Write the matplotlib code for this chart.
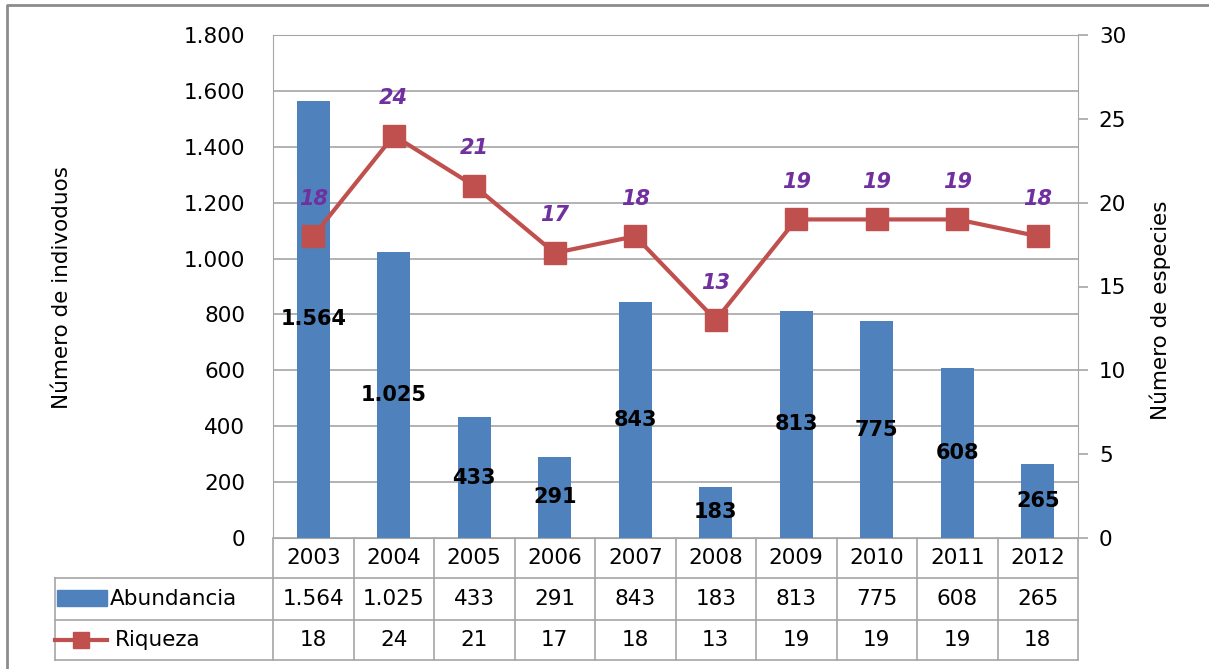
import numpy as np
import matplotlib.pyplot as plt
from matplotlib.lines import Line2D
from matplotlib.patches import Rectangle
from matplotlib.ticker import FuncFormatter
import matplotlib.transforms as mtransforms

years = ["2003", "2004", "2005", "2006", "2007", "2008", "2009", "2010", "2011", "2012"]
abundancia = [1564, 1025, 433, 291, 843, 183, 813, 775, 608, 265]
riqueza = [18, 24, 21, 17, 18, 13, 19, 19, 19, 18]

BLUE = "#4F81BD"
RED = "#C0504D"
PURPLE = "#7030A0"
GRID = "#A6A6A6"
W, H = 1209, 669

plt.rcParams["font.family"] = "DejaVu Sans"


def fx(px):
    return px / W


def fy(px):
    return 1 - px / H


def miles(v):
    return f"{int(v):,}".replace(",", ".")


fig = plt.figure(figsize=(W / 100, H / 100), dpi=100)
ax = fig.add_axes([fx(273), fy(538), fx(1078) - fx(273), fy(35) - fy(538)])
ax2 = ax.twinx()

x = np.arange(len(years))
ax.bar(x, abundancia, width=0.41, color=BLUE, zorder=2)
ax.set_ylim(0, 1800)
ax.set_xlim(-0.5, len(years) - 0.5)
ax.set_yticks(np.arange(0, 1801, 200))
ax.yaxis.set_major_formatter(FuncFormatter(lambda v, p: miles(v)))
ax.grid(axis="y", color=GRID, linewidth=1.2, zorder=0)
ax.set_axisbelow(True)
ax.set_xticks([])
ax.tick_params(axis="y", length=0, pad=20, labelsize=15.5, colors="#000000")
for s in ax.spines.values():
    s.set_color(GRID)
ax.spines["right"].set_visible(False)

for xi, v in zip(x, abundancia):
    ax.text(xi, v / 2, miles(v), ha="center", va="center",
            fontsize=15, fontweight="bold", color="black", zorder=4)

ax2.plot(x, riqueza, color=RED, linewidth=3, marker="s", markersize=16,
         markerfacecolor=RED, markeredgecolor=RED, zorder=3)
ax2.set_ylim(0, 30)
ax2.set_yticks(np.arange(0, 31, 5))
ax2.tick_params(axis="y", length=7, width=1.2, color=GRID, pad=8, labelsize=15.5)
for s in ax2.spines.values():
    s.set_visible(False)
ax2.spines["right"].set_visible(True)
ax2.spines["right"].set_color(GRID)

for xi, r in zip(x, riqueza):
    ax2.annotate(str(r), (xi, r), xytext=(0, 27), textcoords="offset points",
                 ha="center", va="center", fontsize=15, fontweight="bold",
                 fontstyle="italic", color=PURPLE)

fig.text(fx(62), fy(287), "Número de indivoduos", rotation=90,
         ha="center", va="center", fontsize=15.5)
fig.text(fx(1160), fy(310), "Número de especies", rotation=90,
         ha="center", va="center", fontsize=15.5)

# data table under the plot
bt = mtransforms.blended_transform_factory(ax.transData, fig.transFigure)
lw = 1.2
for b in np.arange(-0.5, len(years), 1.0):
    fig.add_artist(Line2D([b, b], [fy(538), fy(660)], transform=bt, color=GRID, lw=lw))
for yy in [578, 620, 660]:
    fig.add_artist(Line2D([fx(55), fx(1078)], [fy(yy), fy(yy)],
                          transform=fig.transFigure, color=GRID, lw=lw))
fig.add_artist(Line2D([fx(55), fx(55)], [fy(578), fy(660)],
                      transform=fig.transFigure, color=GRID, lw=lw))

for xi, yr, a, r in zip(x, years, abundancia, riqueza):
    fig.text(xi, fy(558), yr, transform=bt, ha="center", va="center", fontsize=15.5)
    fig.text(xi, fy(599), miles(a), transform=bt, ha="center", va="center", fontsize=15.5)
    fig.text(xi, fy(640), str(r), transform=bt, ha="center", va="center", fontsize=15.5)

fig.add_artist(Rectangle((fx(57), fy(606)), fx(107) - fx(57), fy(590) - fy(606),
                         transform=fig.transFigure, color=BLUE))
fig.text(fx(110), fy(599), "Abundancia", ha="left", va="center", fontsize=15.5)
fig.add_artist(Line2D([fx(55), fx(107)], [fy(640), fy(640)], transform=fig.transFigure,
                      color=RED, lw=3))
fig.add_artist(Line2D([fx(81)], [fy(640)], transform=fig.transFigure, color=RED,
                      marker="s", markersize=12))
fig.text(fx(115), fy(640), "Riqueza", ha="left", va="center", fontsize=15.5)

# outer chart frame (cropped at right and bottom)
fig.add_artist(Line2D([fx(7), fx(7), 1.0], [0.0, fy(5), fy(5)],
                      transform=fig.transFigure, color="#8C8C8C", lw=2))

fig.savefig("out.png", dpi=100)
